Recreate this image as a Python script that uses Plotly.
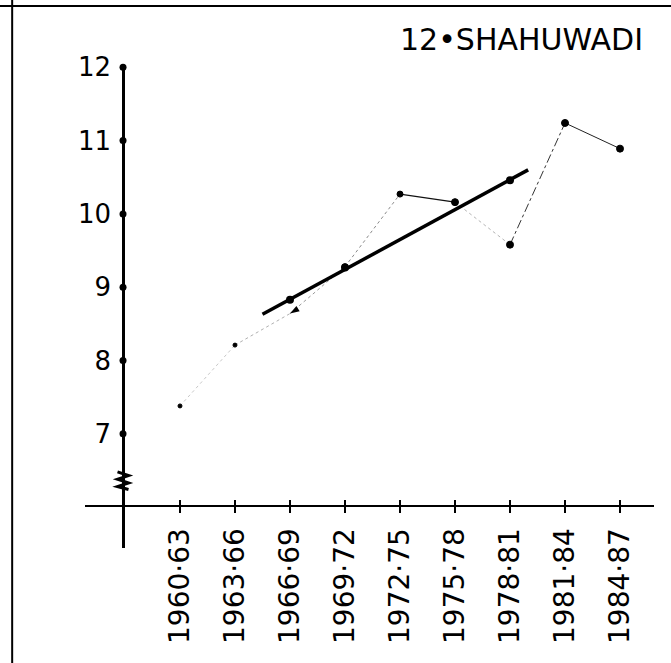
import plotly.graph_objects as go

# ---------------- data ----------------
periods = ["1960·63", "1963·66", "1966·69", "1969·72", "1972·75",
           "1975·78", "1978·81", "1981·84", "1984·87"]
values = [7.38, 8.21, 8.64, 9.28, 10.27, 10.16, 9.58, 11.24, 10.89]

trend_pos = [1.50, 6.33]          # category-index positions of the trend line ends
trend_vals = [8.63, 10.60]
trend_pt_periods = ["1966·69", "1969·72", "1978·81"]
trend_pt_vals = [8.83, 9.27, 10.46]

y_ticks = [7, 8, 9, 10, 11, 12]
title_text = "12•SHAHUWADI"

# ---------------- styling ----------------
seg_styles = [
    dict(color="#c8c8c8", width=1, dash="dot"),
    dict(color="#b0b0b0", width=1, dash="dot"),
    dict(color="#9a9a9a", width=1, dash="dot"),
    dict(color="#8a8a8a", width=1, dash="dot"),
    dict(color="#111111", width=1.2, dash="solid"),
    dict(color="#b5b5b5", width=1, dash="dot"),
    dict(color="#333333", width=1, dash="dashdot"),
    dict(color="#222222", width=1, dash="solid"),
]
marker_sizes = [4, 4, 0, 6, 6, 7, 7, 7, 7]

X_RANGE = [-1.727, 8.618]
Y_RANGE = [5.442, 12.031]
XAXIS_POS = 0.087        # paper y of the horizontal axis
YAXIS_POS = 0.0668       # paper x of the vertical axis
FONT = "DejaVu Sans"

xi = list(range(len(periods)))
idx = {p: i for i, p in enumerate(periods)}
yaxis_x = X_RANGE[0] + YAXIS_POS * (X_RANGE[1] - X_RANGE[0])

fig = go.Figure()

# observed series, segment by segment
for k in range(len(values) - 1):
    fig.add_trace(go.Scatter(
        x=[xi[k], xi[k + 1]], y=[values[k], values[k + 1]],
        mode="lines", line=seg_styles[k], showlegend=False, hoverinfo="skip"))

# observed points
for x, v, s in zip(xi, values, marker_sizes):
    if s > 0:
        fig.add_trace(go.Scatter(
            x=[x], y=[v], mode="markers",
            marker=dict(color="#000000", size=s, opacity=1,
                        line=dict(color="#000000", width=1)),
            showlegend=False))

# the arrow-head point (1966-69)
fig.add_trace(go.Scatter(
    x=[xi[2]], y=[values[2]], mode="markers",
    marker=dict(symbol="arrow", size=10, angle=238, color="black"),
    showlegend=False))

# trend line
fig.add_trace(go.Scatter(
    x=trend_pos, y=trend_vals, mode="lines",
    line=dict(color="black", width=3.5), showlegend=False))
fig.add_trace(go.Scatter(
    x=[idx[p] for p in trend_pt_periods], y=trend_pt_vals, mode="markers",
    marker=dict(color="black", size=8), showlegend=False))

# dot ticks on the vertical axis
fig.add_trace(go.Scatter(
    x=[yaxis_x] * len(y_ticks), y=y_ticks, mode="markers",
    marker=dict(color="black", size=7), showlegend=False, cliponaxis=False))

# invisible trace for the overlay x axis (crossing ticks)
fig.add_trace(go.Scatter(x=[xi[0]], y=[values[0]], xaxis="x2", mode="markers",
                         marker=dict(opacity=0), showlegend=False, hoverinfo="skip"))

# break mark on the vertical axis
d = 0.1
zz = [6.48, 6.43, 6.38, 6.33, 6.28, 6.24]
path = f"M {yaxis_x - d},{zz[0]} "
for j, v in enumerate(zz[1:]):
    path += f"L {yaxis_x + (d if j % 2 == 0 else -d)},{v} "
shapes = [
    dict(type="path", path=path, xref="x", yref="y",
         line=dict(color="black", width=3)),
    # frame lines of the scanned page
    dict(type="line", xref="paper", yref="paper", x0=-0.16, x1=1.05,
         y0=1.122, y1=1.122, line=dict(color="black", width=2)),
    dict(type="line", xref="paper", yref="paper", x0=-0.128, x1=-0.128,
         y0=-0.3, y1=1.15, line=dict(color="black", width=2)),
]

fig.update_layout(
    width=671, height=663,
    margin=dict(l=85, r=17, t=65, b=115),
    paper_bgcolor="white", plot_bgcolor="white",
    font=dict(family=FONT, color="black"),
    shapes=shapes,
    xaxis=dict(
        range=X_RANGE, tickmode="array", tickvals=xi, ticktext=periods,
        tickangle=-90, tickfont=dict(size=28, family=FONT),
        showgrid=False, zeroline=False,
        showline=True, linecolor="black", linewidth=2,
        ticks="outside", ticklen=6, tickwidth=2, tickcolor="black",
        anchor="free", position=XAXIS_POS, ticklabelstandoff=4),
    xaxis2=dict(
        range=X_RANGE, overlaying="x", anchor="free", position=XAXIS_POS,
        tickmode="array", tickvals=xi, showticklabels=False,
        ticks="inside", ticklen=6, tickwidth=2, tickcolor="black",
        showgrid=False, zeroline=False, showline=False),
    yaxis=dict(
        range=Y_RANGE, tickmode="array", tickvals=y_ticks,
        ticktext=[str(t) for t in y_ticks],
        tickfont=dict(size=26, family=FONT),
        showgrid=False, zeroline=False,
        showline=True, linecolor="black", linewidth=2.5,
        ticks="", anchor="free", position=YAXIS_POS, ticklabelstandoff=6),
    annotations=[dict(text=title_text, xref="paper", yref="paper",
                      x=0.768, y=1.052, xanchor="center", yanchor="middle",
                      showarrow=False,
                      font=dict(size=30, family=FONT, color="black"))],
)

fig.write_html("out.html")
